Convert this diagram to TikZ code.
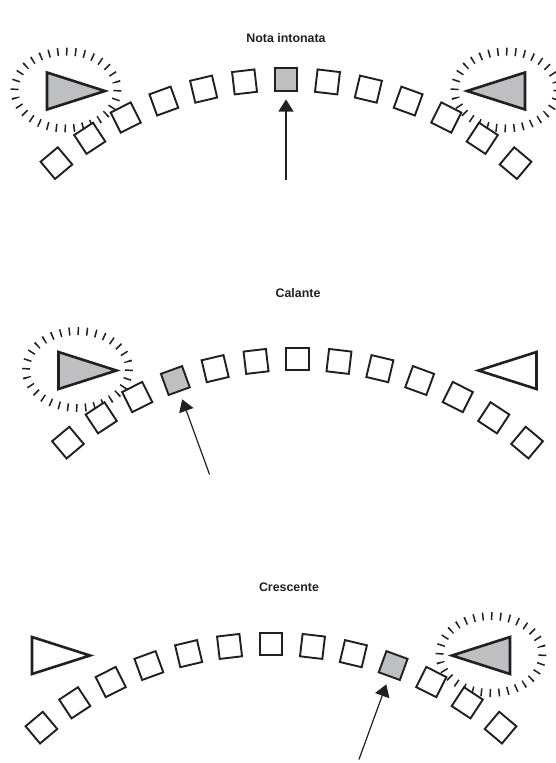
\documentclass[tikz,border=0pt]{standalone}
\usepackage{fontspec}
\setmainfont{Liberation Sans}
\usetikzlibrary{arrows.meta,calc}
\definecolor{litgray}{RGB}{190,191,193}
\definecolor{ink}{RGB}{35,31,32}
\tikzset{
  sq/.style={draw=ink, line width=1.9pt, minimum size=22.5pt, inner sep=0pt, outer sep=0pt},
  tri/.style={draw=ink, line width=2.6pt, line join=miter},
  ticks/.style={draw=ink, line width=8pt, dash pattern=on 1.5pt off 7.38pt},
  ptr/.style={draw=ink, line width=1.2pt, -{Triangle[width=15pt,length=12pt]}, shorten >=8.75pt},
  title/.style={font=\fontsize{12.4}{14}\selectfont\bfseries, text=ink, inner sep=0pt}
}
\newcommand\tpanel[6]{%
  \begin{scope}[shift={(#2,#3)}]
    \coordinate (#1C) at (0,357);
    \ifnum#5=1 \draw[ticks] (-220,10.5) ellipse [x radius=51.5, y radius=38.5]; \fi
    \ifnum#6=1 \draw[ticks] (220,10.5) ellipse [x radius=51.5, y radius=38.5]; \fi
    \ifnum#5=1 \def\lf{litgray}\else\def\lf{white}\fi
    \ifnum#6=1 \def\rf{litgray}\else\def\rf{white}\fi
    \coordinate (#1La) at (-239,-7);
    \coordinate (#1Lb) at (-239,30);
    \coordinate (#1Lc) at (-181,11.5);
    \coordinate (#1Ra) at (239,-7);
    \coordinate (#1Rb) at (239,30);
    \coordinate (#1Rc) at (181,11.5);
    \draw[tri, fill=\lf] (#1La) -- (#1Lb) -- (#1Lc) -- cycle;
    \draw[tri, fill=\rf] (#1Ra) -- (#1Rb) -- (#1Rc) -- cycle;
    \foreach \k in {-6,...,6} {
      \pgfmathsetmacro\t{\k*6.67}
      \pgfmathsetmacro\r{-\k*6.67}
      \pgfmathtruncatemacro\j{\k+6}
      \ifnum\k=#4\relax \def\sf{litgray}\else\def\sf{white}\fi
      \node[sq, fill=\sf, rotate=\r] (#1s\j) at ($(#1C)+({357*sin(\t)},{-357*cos(\t)})$) {};
    }
    \pgfmathsetmacro\g{#4*6.67}
    \pgfmathtruncatemacro\gj{#4+6}
    \coordinate (#1tail) at ($(#1C)+({257*sin(\g)},{-257*cos(\g)})$);
    \draw[ptr] (#1tail) -- (#1s\gj);
  \end{scope}}
\begin{document}
\begin{tikzpicture}[x=1pt,y=-1pt]
  \useasboundingbox (0,0) rectangle (556,763);
  \fill[white] (0,0) rectangle (556,763);
  \node[title] (t1) at (286,38.5) {Nota intonata};
  \node[title] (t2) at (298,293) {Calante};
  \node[title] (t3) at (289,587) {Crescente};
  \tpanel{a}{286}{79.5}{0}{1}{1}
  \tpanel{b}{297.5}{359}{-3}{1}{0}
  \tpanel{c}{271}{644}{3}{0}{1}
\end{tikzpicture}
\end{document}
